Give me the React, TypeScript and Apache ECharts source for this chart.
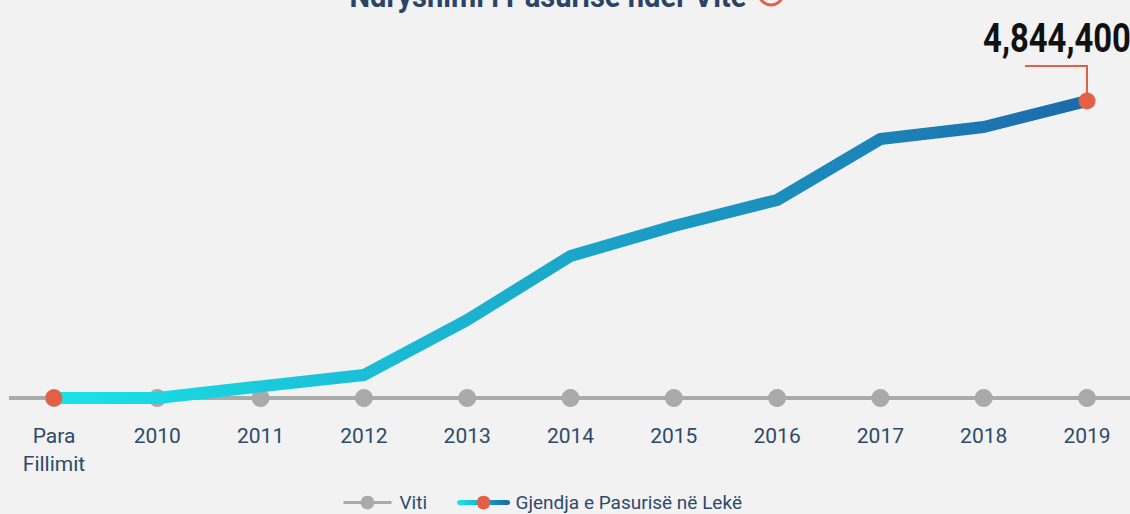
import React, { useEffect, useRef } from "react";
import * as echarts from "echarts";

const categories = ["Para\nFillimit", "2010", "2011", "2012", "2013", "2014", "2015", "2016", "2017", "2018", "2019"];
const vitiValues = [0, 0, 0, 0, 0, 0, 0, 0, 0, 0, 0];
const wealthValues = [0, 0, 190000, 375000, 1272000, 2316000, 2805000, 3230000, 4224000, 4420000, 4844400];
const titleText = "Ndryshimi i Pasurisë ndër Vite";
const seriesNames = ["Viti", "Gjendja e Pasurisë në Lekë"];

const FONT = "Roboto, 'Noto Sans', sans-serif";
const NAVY = "#2d4a6b";
const RED = "#e35f45";
const GRAY = "#aaaaaa";
const CYAN = "#19e3e8";
const BLUE = "#1c6aab";

export default function App() {
  const ref = useRef<HTMLDivElement>(null);
  useEffect(() => {
    document.body.style.margin = "0";
    document.body.style.background = "#f2f2f2";
    const chart = echarts.init(ref.current!, null, { renderer: "svg" });
    const last = wealthValues.length - 1;
    const LEGEND_W = 48;
    chart.setOption({
      animation: false,
      backgroundColor: "#f2f2f2",
      textStyle: { fontFamily: FONT },
      grid: { left: 54, right: 43, top: 101, bottom: 116 },
      legend: {
        top: 488,
        left: 337,
        itemGap: 30,
        itemWidth: LEGEND_W,
        itemHeight: 17,
        textStyle: { color: NAVY, fontSize: 19, fontFamily: FONT, padding: [0, 0, 0, 3] },
        data: [
          { name: seriesNames[0], lineStyle: { width: 3, color: GRAY } },
          {
            name: seriesNames[1],
            lineStyle: {
              width: 5,
              color: new echarts.graphic.LinearGradient(0, 0, LEGEND_W, 0, [
                { offset: 0, color: CYAN },
                { offset: 1, color: BLUE },
              ], true),
            },
          },
        ],
      },
      xAxis: {
        type: "category",
        data: categories,
        boundaryGap: false,
        axisLine: { show: false },
        axisTick: { show: false },
        axisLabel: { color: NAVY, fontSize: 21, lineHeight: 28, margin: 24, fontFamily: FONT, interval: 0 },
      },
      yAxis: { type: "value", min: 0, max: 4844400, show: false, splitLine: { show: false } },
      series: [
        {
          name: seriesNames[0],
          type: "line",
          data: vitiValues,
          z: 1,
          symbol: "circle",
          symbolSize: 18,
          itemStyle: { color: GRAY },
          lineStyle: { color: GRAY, width: 4 },
        },
        {
          name: seriesNames[1],
          type: "line",
          data: wealthValues,
          z: 3,
          symbol: "circle",
          symbolSize: (_v: any, p: any) => (p.dataIndex === 0 || p.dataIndex === last ? 17 : 0),
          showAllSymbol: true,
          itemStyle: { color: RED },
          lineStyle: {
            color: new echarts.graphic.LinearGradient(0, 0, 1, 0, [
              { offset: 0, color: CYAN },
              { offset: 1, color: BLUE },
            ]),
            width: 12,
            cap: "round",
            join: "round",
          },
        },
      ],
    });
    const [px, py] = chart.convertToPixel({ seriesIndex: 1 }, [last, wealthValues[last]]) as number[];
    const [, y0] = chart.convertToPixel({ seriesIndex: 0 }, [0, 0]) as number[];
    chart.setOption({
      graphic: [
        {
          type: "line",
          z: 0,
          shape: { x1: 9, y1: y0, x2: 1130, y2: y0 },
          style: { stroke: GRAY, lineWidth: 4 },
        },
        {
          type: "polyline",
          z: 0,
          shape: { points: [[px - 62, py - 35], [px, py - 35], [px, py]] },
          style: { stroke: RED, lineWidth: 2, fill: null },
        },
        {
          type: "text",
          x: px - 30,
          y: py - 63,
          scaleX: 0.8,
          z: 10,
          style: {
            text: wealthValues[last].toLocaleString("en-US"),
            fill: "#111111",
            fontSize: 41,
            fontWeight: "bold",
            fontFamily: FONT,
            align: "center",
            verticalAlign: "middle",
          },
        },
        {
          type: "text",
          x: 548,
          y: 12,
          scaleX: 0.91,
          style: {
            text: titleText,
            fill: "#2a4465",
            fontSize: 32,
            fontWeight: "bold",
            fontFamily: FONT,
            align: "center",
            verticalAlign: "bottom",
          },
        },
        {
          type: "arc",
          shape: { cx: 771, cy: -7, r: 12, startAngle: 0.25, endAngle: 2.9, clockwise: true },
          style: { stroke: RED, lineWidth: 3, fill: null },
        },
      ],
    });
    return () => chart.dispose();
  }, []);
  return <div ref={ref} style={{ width: 1130, height: 514 }} />;
}
